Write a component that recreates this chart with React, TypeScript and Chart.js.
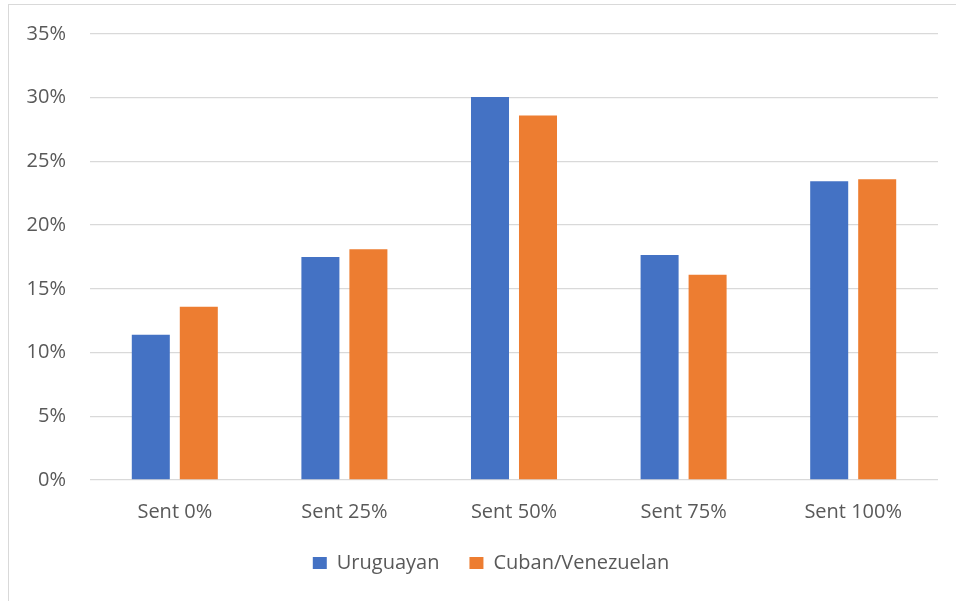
import React, { useEffect, useRef } from "react";
import { Chart, registerables } from "chart.js";

Chart.register(...registerables);

const categories = ["Sent 0%", "Sent 25%", "Sent 50%", "Sent 75%", "Sent 100%"];
const uruguayan = [11.4, 17.5, 30.05, 17.65, 23.45];
const cubanVenezuelan = [13.6, 18.1, 28.6, 16.1, 23.6];
const seriesNames = ["Uruguayan", "Cuban/Venezuelan"];
const yMax = 35;
const yStep = 5;

const FONT = "'Open Sans', 'Noto Sans', sans-serif";
const TEXT = "#595959";

const legendShift = {
  id: "legendShift",
  afterLayout(chart: any) {
    const lg = chart.legend;
    if (lg) {
      lg.left += 35;
      lg.right += 0;
    }
  },
};

export default function App() {
  const ref = useRef<HTMLCanvasElement | null>(null);
  useEffect(() => {
    if (!ref.current) return;
    const chart = new Chart(ref.current, {
      type: "bar",
      data: {
        labels: categories,
        datasets: [
          {
            label: seriesNames[0],
            data: uruguayan,
            backgroundColor: "#4472C4",
            borderWidth: 0,
            categoryPercentage: 0.566,
            barPercentage: 0.792,
          },
          {
            label: seriesNames[1],
            data: cubanVenezuelan,
            backgroundColor: "#ED7D31",
            borderWidth: 0,
            categoryPercentage: 0.566,
            barPercentage: 0.792,
          },
        ],
      },
      options: {
        animation: false,
        responsive: false,
        maintainAspectRatio: false,
        layout: { padding: { left: 0, right: 18, top: 29, bottom: 18 } },
        plugins: {
          tooltip: { enabled: false },
          legend: {
            position: "bottom",
            labels: {
              boxWidth: 14,
              boxHeight: 12,
              padding: 30,
              color: TEXT,
              font: { family: FONT, size: 20 },
            },
          },
        },
        scales: {
          x: {
            grid: { display: false, drawTicks: false },
            border: { display: false },
            afterFit: (s: any) => {
              s.height = 43;
            },
            ticks: { color: TEXT, font: { family: FONT, size: 20 }, padding: 20 },
          },
          y: {
            min: 0,
            max: yMax,
            grid: { color: "#d9d9d9", lineWidth: 1.3, drawTicks: false },
            border: { display: false },
            afterFit: (s: any) => {
              s.width = 81;
            },
            ticks: {
              stepSize: yStep,
              padding: 24,
              color: TEXT,
              font: { family: FONT, size: 20, lineHeight: 0.5 },
              callback: (v: any) => v + "%",
            },
          },
        },
      },
      plugins: [legendShift],
    });
    return () => chart.destroy();
  }, []);
  return (
    <div
      style={{
        position: "absolute",
        left: 8,
        top: 4,
        width: 990,
        height: 640,
        border: "1px solid #d9d9d9",
        background: "#fff",
      }}
    >
      <canvas ref={ref} width={947} height={596} style={{ display: "block", width: 947, height: 596 }} />
    </div>
  );
}
